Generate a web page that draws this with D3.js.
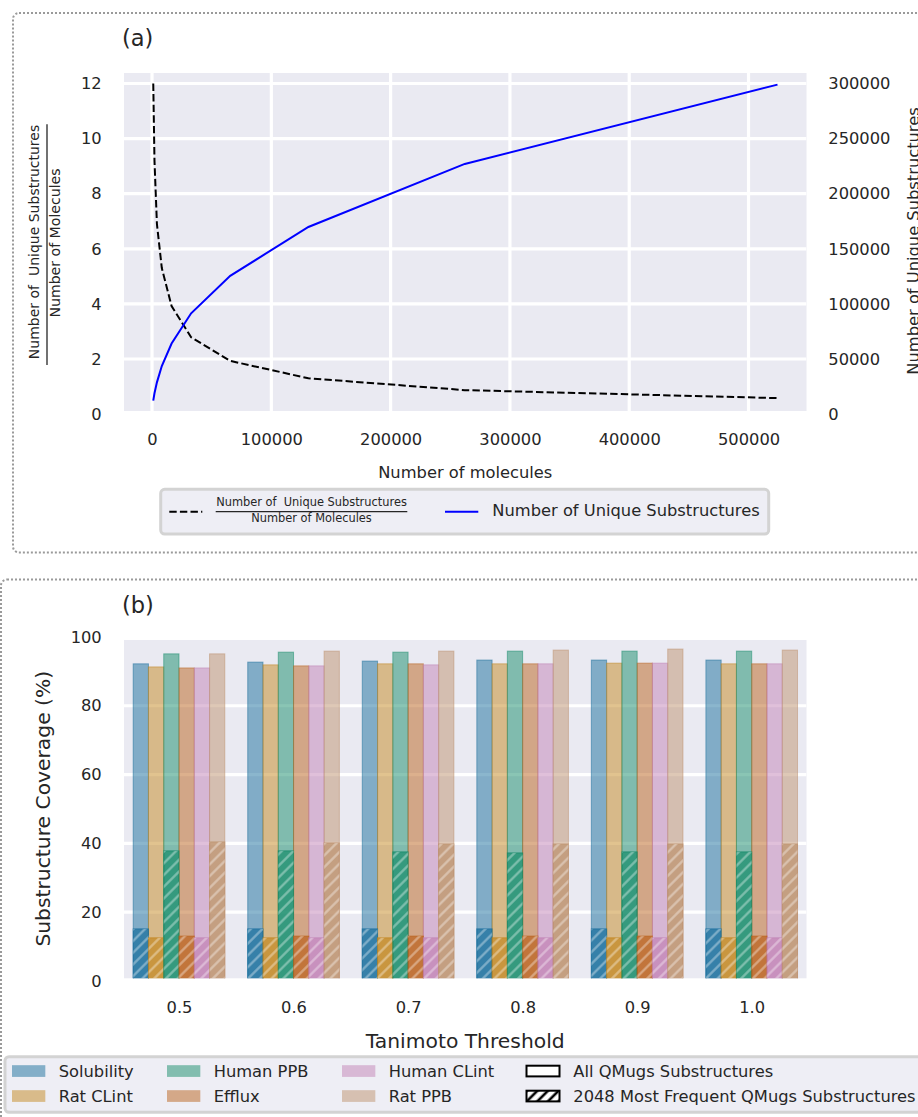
<!DOCTYPE html>
<html>
<head>
<meta charset="utf-8">
<script src="https://cdn.jsdelivr.net/npm/d3@7"></script>
<style>
  body { margin: 0; background: #ffffff; }
  svg { display: block; font-family: "DejaVu Sans", sans-serif; }
</style>
</head>
<body>
<svg id="fig" width="918" height="1117"></svg>
<script>
// ---------- panel (a): substructure growth ----------
const molecules = [1024, 2048, 4096, 8192, 16384, 32768, 65536, 131072, 262144, 524288];
const substructureRatio = [12.0, 9.2, 6.9, 5.3, 3.92, 2.79, 1.93, 1.30, 0.87, 0.58];
const uniqueSubstructures = [12300, 18900, 28800, 43600, 64000, 91500, 125500, 169800, 227000, 299000];
const moleculeTicks = [0, 100000, 200000, 300000, 400000, 500000];
const ratioTicks = [0, 2, 4, 6, 8, 10, 12];
const uniqueTicks = [0, 50000, 100000, 150000, 200000, 250000, 300000];

// ---------- panel (b): substructure coverage ----------
const thresholds = ["0.5", "0.6", "0.7", "0.8", "0.9", "1.0"];
const datasets = ["Solubility", "Rat CLint", "Human PPB", "Efflux", "Human CLint", "Rat PPB"];
const datasetColors = ["#176d9c", "#c38820", "#168b6a", "#ba611b", "#c282b5", "#bd926e"];
const coverageAll = [
  [92.2, 92.7, 93.0, 93.3, 93.3, 93.3],   // Solubility
  [91.3, 91.9, 92.2, 92.2, 92.4, 92.2],   // Rat CLint
  [95.1, 95.6, 95.6, 95.9, 95.9, 95.9],   // Human PPB
  [91.0, 91.6, 92.2, 92.2, 92.4, 92.2],   // Efflux
  [91.0, 91.6, 91.9, 92.2, 92.4, 92.2],   // Human CLint
  [95.1, 95.9, 95.9, 96.2, 96.5, 96.2]    // Rat PPB
];
const coverageTop2048 = [
  [15.1, 15.1, 15.1, 15.1, 15.1, 15.1],
  [12.5, 12.5, 12.5, 12.5, 12.5, 12.5],
  [37.8, 37.8, 37.5, 37.2, 37.5, 37.5],
  [13.0, 13.0, 13.0, 13.0, 13.0, 13.0],
  [12.5, 12.5, 12.5, 12.5, 12.5, 12.5],
  [40.4, 40.1, 39.8, 39.8, 39.8, 39.8]
];
const coverageTicks = [0, 20, 40, 60, 80, 100];
const fractionTop = "Number of  Unique Substructures";
const fractionBottom = "Number of Molecules";

const ink = "#262626";
const axesBg = "#eaeaf2";
const legendBg = "#eeeef5";
const legendEdge = "#d3d3d3";
const fs = 16.3;      // tick and legend text
const fsTitle = 20.3; // panel (b) axis titles

const svg = d3.select("#fig");
const defs = svg.append("defs");

// hatch used on the bars (light stripes)
const hatchBar = defs.append("pattern")
  .attr("id", "hatchBar").attr("patternUnits", "userSpaceOnUse")
  .attr("width", 8.3).attr("height", 10).attr("patternTransform", "rotate(45)");
hatchBar.append("line").attr("x1", 4.15).attr("x2", 4.15).attr("y1", 0).attr("y2", 10)
  .attr("stroke", "#ffffff").attr("stroke-opacity", 0.38).attr("stroke-width", 2.2);

// hatch used in the legend key (dark stripes)
const hatchKey = defs.append("pattern")
  .attr("id", "hatchKey").attr("patternUnits", "userSpaceOnUse")
  .attr("width", 7.5).attr("height", 10).attr("patternTransform", "rotate(45)");
hatchKey.append("rect").attr("width", 7.5).attr("height", 10).attr("fill", "#ffffff");
hatchKey.append("line").attr("x1", 3.75).attr("x2", 3.75).attr("y1", 0).attr("y2", 10)
  .attr("stroke", "#000000").attr("stroke-width", 2.6);

// dotted panel frames
function frame(x, y, w, h) {
  svg.append("rect").attr("x", x).attr("y", y).attr("width", w).attr("height", h).attr("rx", 6)
    .attr("fill", "none").attr("stroke", "#9a9a9a").attr("stroke-width", 2)
    .attr("stroke-dasharray", "2 2");
}
frame(13, 13, 930, 539.5);
frame(1, 579.5, 930, 560);

function styleAxis(g) {
  g.select(".domain").remove();
  g.selectAll("text").attr("fill", ink).attr("font-size", fs)
    .attr("font-family", "'DejaVu Sans', sans-serif");
}

// =================== panel (a) ===================
const A = { left: 124, right: 806.5, top: 73, bottom: 411 };
const xA = d3.scaleLinear().domain([-23500, 548600]).range([A.left, A.right]);
const yLeft = d3.scaleLinear().domain([0.1125, 12.381]).range([A.bottom, A.top]);
const yRight = d3.scaleLinear().domain([0.1125 * 25000, 12.381 * 25000]).range([A.bottom, A.top]);

svg.append("text").attr("x", 122).attr("y", 46).attr("font-size", 22.5).attr("fill", ink).text("(a)");

svg.append("rect").attr("x", A.left).attr("y", A.top)
  .attr("width", A.right - A.left).attr("height", A.bottom - A.top).attr("fill", axesBg);

defs.append("clipPath").attr("id", "clipA").append("rect")
  .attr("x", A.left).attr("y", A.top).attr("width", A.right - A.left).attr("height", A.bottom - A.top);

const gridA = svg.append("g").attr("clip-path", "url(#clipA)")
  .attr("stroke", "#ffffff").attr("stroke-width", 3.2);
gridA.selectAll("line.v").data(moleculeTicks).join("line").attr("class", "v")
  .attr("x1", d => xA(d)).attr("x2", d => xA(d)).attr("y1", A.top).attr("y2", A.bottom);
gridA.selectAll("line.h").data(ratioTicks).join("line").attr("class", "h")
  .attr("y1", d => yLeft(d)).attr("y2", d => yLeft(d)).attr("x1", A.left).attr("x2", A.right);

svg.append("g").attr("transform", `translate(0,${A.bottom})`)
  .call(d3.axisBottom(xA).tickValues(moleculeTicks).tickSize(0).tickPadding(22.8).tickFormat(d3.format("d")))
  .call(styleAxis);
svg.append("g").attr("transform", `translate(${A.left},0)`)
  .call(d3.axisLeft(yLeft).tickValues(ratioTicks).tickSize(0).tickPadding(22.3).tickFormat(d3.format("d")))
  .call(styleAxis);
svg.append("g").attr("transform", `translate(${A.right},0)`)
  .call(d3.axisRight(yRight).tickValues(uniqueTicks).tickSize(0).tickPadding(21.8).tickFormat(d3.format("d")))
  .call(styleAxis);

const idx = d3.range(molecules.length);
svg.append("path").datum(idx)
  .attr("d", d3.line().x(i => xA(molecules[i])).y(i => yLeft(substructureRatio[i])))
  .attr("fill", "none").attr("stroke", "#000000").attr("stroke-width", 2)
  .attr("stroke-dasharray", "7.4 3.2");
svg.append("path").datum(idx)
  .attr("d", d3.line().x(i => xA(molecules[i])).y(i => yRight(uniqueSubstructures[i])))
  .attr("fill", "none").attr("stroke", "#0000ff").attr("stroke-width", 2);

// axis titles
svg.append("text").attr("x", (A.left + A.right) / 2).attr("y", 478).attr("text-anchor", "middle")
  .attr("font-size", fs).attr("fill", ink).text("Number of molecules");

svg.append("text").attr("transform", "translate(39.4,242) rotate(-90)").attr("text-anchor", "middle")
  .attr("font-size", 14).attr("fill", ink).attr("xml:space", "preserve").style("white-space", "pre")
  .text(fractionTop);
svg.append("line").attr("x1", 47).attr("x2", 47).attr("y1", 124.3).attr("y2", 365)
  .attr("stroke", ink).attr("stroke-width", 1.3);
svg.append("text").attr("transform", "translate(60,243) rotate(-90)").attr("text-anchor", "middle")
  .attr("font-size", 14.1).attr("fill", ink).text(fractionBottom);

svg.append("text").attr("transform", "translate(919,241) rotate(-90)").attr("text-anchor", "middle")
  .attr("font-size", fs).attr("fill", ink).text("Number of Unique Substructures");

// legend (a)
const legA = svg.append("g");
legA.append("rect").attr("x", 160.7).attr("y", 489.3).attr("width", 608).attr("height", 44.7).attr("rx", 4)
  .attr("fill", legendBg).attr("stroke", legendEdge).attr("stroke-width", 3);
legA.append("line").attr("x1", 169.3).attr("x2", 202.3).attr("y1", 511.7).attr("y2", 511.7)
  .attr("stroke", "#000000").attr("stroke-width", 2).attr("stroke-dasharray", "7.4 3.2");
legA.append("text").attr("x", 311.5).attr("y", 505.6).attr("text-anchor", "middle")
  .attr("font-size", 11.4).attr("fill", ink).attr("xml:space", "preserve").style("white-space", "pre")
  .text(fractionTop);
legA.append("line").attr("x1", 215.7).attr("x2", 407.3).attr("y1", 511.7).attr("y2", 511.7)
  .attr("stroke", ink).attr("stroke-width", 1.2);
legA.append("text").attr("x", 311.5).attr("y", 521.8).attr("text-anchor", "middle")
  .attr("font-size", 11.4).attr("fill", ink).text(fractionBottom);
legA.append("line").attr("x1", 445).attr("x2", 478.3).attr("y1", 511.7).attr("y2", 511.7)
  .attr("stroke", "#0000ff").attr("stroke-width", 2);
legA.append("text").attr("x", 492.3).attr("y", 516).attr("font-size", fs).attr("fill", ink)
  .text("Number of Unique Substructures");

// =================== panel (b) ===================
const B = { left: 124, right: 806.5, top: 640, bottom: 978.3 };
const groupX = d3.scaleLinear().domain([0, thresholds.length - 1]).range([179, 751.7]);
const groupStep = groupX(1) - groupX(0);
const barW = groupStep * 0.8 / datasets.length;
const yB = d3.scaleLinear().domain([0.73, 99.13]).range([B.bottom, B.top]);

svg.append("text").attr("x", 122).attr("y", 613.3).attr("font-size", 22.5).attr("fill", ink).text("(b)");

svg.append("rect").attr("x", B.left).attr("y", B.top)
  .attr("width", B.right - B.left).attr("height", B.bottom - B.top).attr("fill", axesBg);
defs.append("clipPath").attr("id", "clipB").append("rect")
  .attr("x", B.left).attr("y", B.top).attr("width", B.right - B.left).attr("height", B.bottom - B.top);

svg.append("g").attr("clip-path", "url(#clipB)")
  .attr("stroke", "#ffffff").attr("stroke-width", 3.2)
  .selectAll("line").data(coverageTicks).join("line")
  .attr("y1", d => yB(d)).attr("y2", d => yB(d)).attr("x1", B.left).attr("x2", B.right);

const bars = svg.append("g").attr("clip-path", "url(#clipB)");
function barX(i, j) { return groupX(i) - groupStep * 0.4 + j * barW; }

datasets.forEach((name, j) => {
  const col = datasetColors[j];
  bars.append("g").selectAll("rect").data(coverageAll[j]).join("rect")
    .attr("x", (v, i) => barX(i, j)).attr("width", barW)
    .attr("y", v => yB(v)).attr("height", v => yB(0) - yB(v))
    .attr("fill", col).attr("fill-opacity", 0.5)
    .attr("stroke", col).attr("stroke-opacity", 0.5).attr("stroke-width", 1);
});
datasets.forEach((name, j) => {
  const col = datasetColors[j];
  const g = bars.append("g");
  g.selectAll("rect.f").data(coverageTop2048[j]).join("rect").attr("class", "f")
    .attr("x", (v, i) => barX(i, j)).attr("width", barW)
    .attr("y", v => yB(v)).attr("height", v => yB(0) - yB(v))
    .attr("fill", col).attr("fill-opacity", 0.7)
    .attr("stroke", col).attr("stroke-opacity", 0.7).attr("stroke-width", 1);
  g.selectAll("rect.h").data(coverageTop2048[j]).join("rect").attr("class", "h")
    .attr("x", (v, i) => barX(i, j)).attr("width", barW)
    .attr("y", v => yB(v)).attr("height", v => yB(0) - yB(v))
    .attr("fill", "url(#hatchBar)");
});

svg.append("g").attr("transform", `translate(0,${B.bottom})`)
  .call(d3.axisBottom(groupX).tickValues(d3.range(thresholds.length)).tickSize(0).tickPadding(22.7)
    .tickFormat(i => thresholds[i]))
  .call(styleAxis);
svg.append("g").attr("transform", `translate(${B.left},0)`)
  .call(d3.axisLeft(yB).tickValues(coverageTicks).tickSize(0).tickPadding(22.3).tickFormat(d3.format("d")))
  .call(styleAxis);

svg.append("text").attr("x", (B.left + B.right) / 2).attr("y", 1048).attr("text-anchor", "middle")
  .attr("font-size", fsTitle).attr("fill", ink).text("Tanimoto Threshold");
svg.append("text").attr("transform", "translate(50,808.7) rotate(-90)").attr("text-anchor", "middle")
  .attr("font-size", fsTitle).attr("fill", ink).text("Substructure Coverage (%)");

// legend (b)
const legB = svg.append("g");
legB.append("rect").attr("x", 5).attr("y", 1056.7).attr("width", 930).attr("height", 55.6).attr("rx", 4)
  .attr("fill", legendBg).attr("stroke", legendEdge).attr("stroke-width", 3);
const colX = [12, 167, 342];
const rowY = [1071, 1096];
datasets.forEach((name, j) => {
  const c = Math.floor(j / 2), r = j % 2;
  legB.append("rect").attr("x", colX[c]).attr("y", rowY[r] - 5.8).attr("width", 33.3).attr("height", 11.7)
    .attr("fill", datasetColors[j]).attr("fill-opacity", 0.5);
  legB.append("text").attr("x", colX[c] + 46.7).attr("y", rowY[r] + 5.8).attr("font-size", fs)
    .attr("fill", ink).text(name);
});
const subsetNames = ["All QMugs Substructures", "2048 Most Frequent QMugs Substructures"];
subsetNames.forEach((name, r) => {
  legB.append("rect").attr("x", 526.5).attr("y", rowY[r] - 5.3).attr("width", 33).attr("height", 10.7)
    .attr("fill", r === 0 ? "#ffffff" : "url(#hatchKey)").attr("stroke", "#000000").attr("stroke-width", 2);
  legB.append("text").attr("x", 573.3).attr("y", rowY[r] + 5.8).attr("font-size", fs)
    .attr("fill", ink).text(name);
});
</script>
</body>
</html>
